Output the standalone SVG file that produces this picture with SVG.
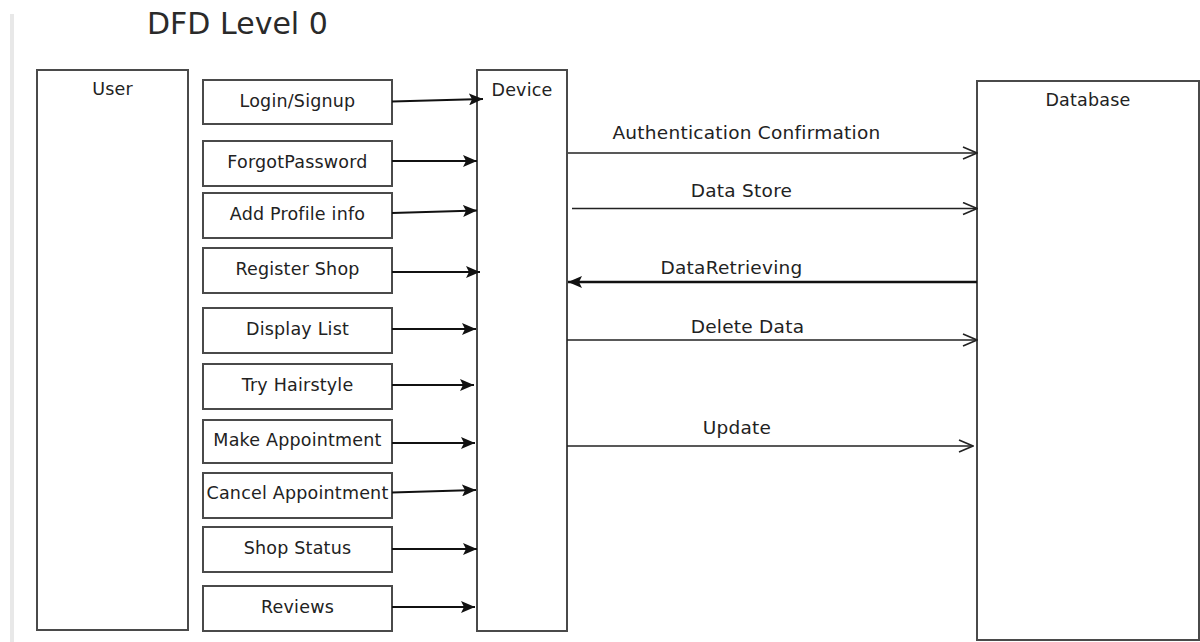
<svg xmlns="http://www.w3.org/2000/svg" width="1200" height="642" viewBox="0 0 1200 642">
<style>
.box{fill:#fff;stroke:#4a4a4a;stroke-width:2}
.lbl{font-family:"DejaVu Sans",Verdana,sans-serif;font-size:17.5px;letter-spacing:0.2px;fill:#222;text-anchor:middle}
.clbl{font-family:"DejaVu Sans",Verdana,sans-serif;font-size:18.5px;letter-spacing:0.25px;fill:#222;text-anchor:middle}
.title{font-family:"DejaVu Sans",Verdana,sans-serif;font-size:30px;fill:#2a2a2a}
.in{stroke:#111;stroke-width:2;fill:none;marker-end:url(#fill)}
.out{stroke:#222;stroke-width:1.6;fill:none;marker-end:url(#open)}
</style>
<defs>
<marker id="fill" markerUnits="userSpaceOnUse" markerWidth="14" markerHeight="12" refX="14" refY="6" orient="auto"><path d="M0,0 L14,6 L0,12 L3,6 z" fill="#111"/></marker>
<marker id="open" markerUnits="userSpaceOnUse" markerWidth="16" markerHeight="14" refX="15" refY="7" orient="auto"><path d="M1,1 L15,7 L1,13" fill="none" stroke="#222" stroke-width="1.6"/></marker>
</defs>
<rect width="1200" height="642" fill="#fff"/>
<line x1="12" y1="14" x2="12" y2="642" stroke="#e8e8e8" stroke-width="4"/>
<text class="title" x="147" y="34">DFD Level 0</text>

<g id="user"><rect class="box" x="37" y="70" width="151" height="560"/><text class="lbl" x="112.5" y="95">User</text></g>
<g id="device"><rect class="box" x="477" y="70" width="90" height="561"/><text class="lbl" x="522" y="96">Device</text></g>
<g id="database"><rect class="box" x="977" y="81" width="222" height="559"/><text class="lbl" x="1088" y="106">Database</text></g>

<g id="login"><rect class="box" x="203" y="80" width="189" height="44"/><text class="lbl" x="297.5" y="107">Login/Signup</text></g>
<g id="forgot"><rect class="box" x="203" y="141" width="189" height="45"/><text class="lbl" x="297.5" y="168">ForgotPassword</text></g>
<g id="profile"><rect class="box" x="203" y="193" width="189" height="45"/><text class="lbl" x="297.5" y="220">Add Profile info</text></g>
<g id="register"><rect class="box" x="203" y="248" width="189" height="45"/><text class="lbl" x="297.5" y="275">Register Shop</text></g>
<g id="display"><rect class="box" x="203" y="308" width="189" height="45"/><text class="lbl" x="297.5" y="335">Display List</text></g>
<g id="hairstyle"><rect class="box" x="203" y="364" width="189" height="45"/><text class="lbl" x="297.5" y="391">Try Hairstyle</text></g>
<g id="make"><rect class="box" x="203" y="420" width="189" height="43"/><text class="lbl" x="297.5" y="446">Make Appointment</text></g>
<g id="cancel"><rect class="box" x="203" y="473" width="189" height="45"/><text class="lbl" x="297.5" y="499">Cancel Appointment</text></g>
<g id="status"><rect class="box" x="203" y="527" width="189" height="45"/><text class="lbl" x="297.5" y="554">Shop Status</text></g>
<g id="reviews"><rect class="box" x="203" y="586" width="189" height="45"/><text class="lbl" x="297.5" y="613">Reviews</text></g>

<g id="connectors">
<line class="in" x1="392" y1="101.5" x2="483" y2="99"/>
<line class="in" x1="392" y1="161" x2="477" y2="161"/>
<line class="in" x1="392" y1="213" x2="477" y2="210.5"/>
<line class="in" x1="392" y1="272" x2="480" y2="272"/>
<line class="in" x1="392" y1="329" x2="476" y2="329"/>
<line class="in" x1="392" y1="385" x2="474" y2="385"/>
<line class="in" x1="392" y1="443" x2="475" y2="443"/>
<line class="in" x1="392" y1="492.5" x2="476" y2="490"/>
<line class="in" x1="392" y1="549" x2="477" y2="549"/>
<line class="in" x1="392" y1="607" x2="475" y2="607"/>

<line class="out" x1="568" y1="153" x2="977" y2="153"/>
<text class="clbl" x="746.5" y="139">Authentication Confirmation</text>
<line class="out" x1="572" y1="208.5" x2="977" y2="208.5"/>
<text class="clbl" x="741.5" y="197">Data Store</text>
<line x1="977" y1="282" x2="568" y2="282" stroke="#111" stroke-width="2.5" marker-end="url(#fill)"/>
<text class="clbl" x="731.5" y="274">DataRetrieving</text>
<line class="out" x1="567" y1="340" x2="977" y2="340"/>
<text class="clbl" x="747.5" y="333">Delete Data</text>
<line class="out" x1="567" y1="446" x2="973" y2="446"/>
<text class="clbl" x="737" y="434">Update</text>
</g>
</svg>
